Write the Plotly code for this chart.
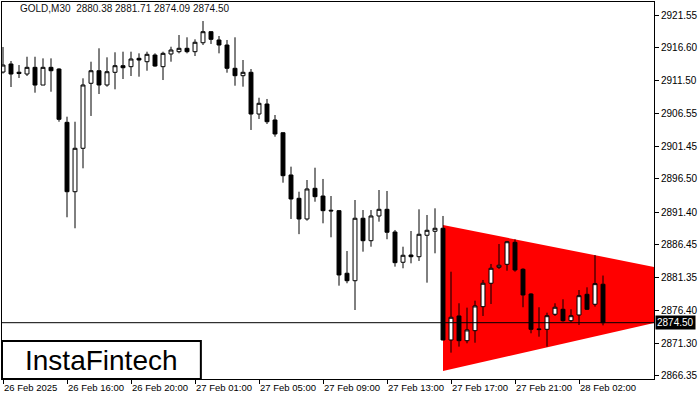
import plotly.graph_objects as go

# ---- data (GOLD, M30) ----
opens = [2912.83, 2914.06, 2912.80, 2912.53, 2913.55, 2910.84, 2913.55, 2913.29, 2905.14, 2894.53,
         2901.17, 2911.11, 2913.03, 2910.85, 2912.79, 2913.80, 2913.65, 2914.93, 2914.41, 2915.43,
         2913.65, 2915.59, 2915.94, 2916.46, 2915.94, 2917.31, 2919.00, 2917.73, 2916.96, 2913.40,
         2912.27, 2912.79, 2906.41, 2907.94, 2905.50, 2903.55, 2897.09, 2893.52, 2890.36, 2895.05,
         2893.87, 2891.70, 2891.63, 2882.06, 2880.92, 2890.47, 2887.04, 2890.82, 2891.84, 2888.37,
         2883.74, 2884.85, 2884.59, 2887.87, 2888.48, 2888.94, 2871.86, 2875.53, 2871.75, 2873.28,
         2876.95, 2880.53, 2882.97, 2883.43, 2886.79, 2882.67, 2878.89, 2873.55, 2873.49, 2875.79,
         2876.55, 2874.81, 2875.68, 2878.84, 2877.32, 2880.38]
highs = [2916.66, 2914.52, 2913.90, 2915.17, 2915.17, 2914.92, 2914.92, 2913.40, 2906.00, 2905.23,
         2911.87, 2914.41, 2916.46, 2915.08, 2915.85, 2915.94, 2915.94, 2915.69, 2915.94, 2915.69,
         2915.94, 2916.70, 2918.49, 2918.14, 2917.83, 2920.63, 2919.05, 2918.34, 2917.73, 2918.14,
         2914.67, 2913.29, 2908.90, 2908.71, 2906.26, 2903.60, 2898.36, 2894.53, 2896.32, 2898.20,
         2896.48, 2893.87, 2891.70, 2885.46, 2893.26, 2891.73, 2891.73, 2894.79, 2894.64, 2888.68,
         2886.12, 2888.52, 2891.84, 2890.97, 2891.99, 2890.82, 2882.30, 2877.47, 2876.80, 2877.87,
         2881.03, 2883.48, 2886.53, 2887.00, 2887.25, 2882.82, 2879.00, 2876.86, 2876.03, 2877.47,
         2878.08, 2876.55, 2879.50, 2879.91, 2884.85, 2881.71]
lows = [2912.60, 2910.54, 2911.92, 2912.22, 2909.67, 2910.84, 2909.82, 2905.23, 2890.62, 2888.94,
        2898.11, 2906.11, 2909.47, 2910.59, 2910.19, 2911.76, 2912.22, 2912.12, 2913.03, 2913.65,
        2911.61, 2914.41, 2915.69, 2915.69, 2915.28, 2916.96, 2917.12, 2915.69, 2912.73, 2910.74,
        2910.59, 2903.97, 2905.65, 2904.88, 2902.94, 2895.91, 2890.36, 2888.04, 2890.10, 2893.00,
        2889.70, 2887.56, 2880.16, 2880.53, 2876.44, 2885.36, 2886.12, 2889.95, 2887.26, 2883.07,
        2882.82, 2883.58, 2883.94, 2880.62, 2885.11, 2871.80, 2869.92, 2870.84, 2871.35, 2871.44,
        2875.53, 2877.36, 2882.71, 2882.45, 2882.30, 2876.86, 2872.88, 2872.36, 2870.84, 2875.53,
        2874.66, 2874.56, 2874.15, 2876.44, 2876.95, 2874.09]
closes = [2913.90, 2912.53, 2912.60, 2913.55, 2910.84, 2913.55, 2913.03, 2905.60, 2894.53, 2901.17,
          2910.85, 2913.03, 2910.85, 2912.88, 2913.80, 2913.49, 2914.82, 2914.67, 2915.54, 2913.75,
          2915.69, 2916.20, 2916.46, 2915.94, 2917.38, 2919.00, 2917.83, 2916.96, 2913.40, 2912.27,
          2912.79, 2906.41, 2908.05, 2905.23, 2903.36, 2896.98, 2893.42, 2890.36, 2894.95, 2893.77,
          2891.63, 2891.60, 2881.80, 2880.92, 2890.47, 2887.04, 2890.82, 2891.84, 2888.33, 2883.68,
          2884.81, 2884.59, 2888.02, 2888.63, 2888.94, 2871.86, 2875.33, 2871.75, 2873.39, 2877.06,
          2880.53, 2882.82, 2883.28, 2886.88, 2882.56, 2878.74, 2873.49, 2873.45, 2875.57, 2876.86,
          2874.81, 2875.57, 2878.63, 2876.55, 2880.47, 2874.50]
bar_index = list(range(len(opens)))

x_tick_index = [0, 8, 16, 24, 32, 40, 48, 56, 64, 72]
x_tick_labels = ["26 Feb 2025", "26 Feb 16:00", "26 Feb 20:00", "27 Feb 01:00", "27 Feb 05:00",
                 "27 Feb 09:00", "27 Feb 13:00", "27 Feb 17:00", "27 Feb 21:00", "28 Feb 02:00"]
y_tick_values = [2921.55, 2916.60, 2911.50, 2906.55, 2901.45, 2896.50,
                 2891.40, 2886.45, 2881.35, 2876.40, 2871.30, 2866.35]

bid_price = 2874.50
header_text = "GOLD,M30\u00a0\u00a02880.38 2881.71 2874.09 2874.50"

# symmetrical triangle pattern (bar index, price)
triangle_index = [55, 55, 97.9]
triangle_price = [2889.44, 2867.12, 2879.02]

x_range = [-0.125, 81.375]
y_range = [2865.89, 2923.54]

FONT = "Liberation Sans, Arial, sans-serif"

fig = go.Figure()

fig.add_trace(go.Candlestick(
    x=bar_index, open=opens, high=highs, low=lows, close=closes,
    increasing=dict(fillcolor="white", line=dict(color="black", width=1)),
    decreasing=dict(fillcolor="black", line=dict(color="black", width=1)),
    whiskerwidth=0))

# triangle drawn below the candles
tri_path = "M " + " L ".join(f"{xi},{yi}" for xi, yi in zip(triangle_index, triangle_price)) + " Z"
fig.add_shape(type="path", xref="x", yref="y", path=tri_path,
              fillcolor="#ff0000", line=dict(width=0), layer="below")

fig.add_shape(type="line", xref="paper", x0=0, x1=1, yref="y", y0=bid_price, y1=bid_price,
              line=dict(color="black", width=1), layer="above")

# logo box
fig.add_shape(type="rect", xref="paper", yref="paper", x0=0.0, x1=0.305, y0=0.0, y1=0.101,
              line=dict(color="black", width=2), fillcolor="white", layer="above")
fig.add_annotation(xref="paper", yref="paper", x=0.1525, y=0.05, text="InstaFintech",
                   showarrow=False, font=dict(family=FONT, size=28, color="black"),
                   xanchor="center", yanchor="middle")

fig.add_annotation(xref="paper", yref="paper", x=0.024, y=0.982, text=header_text,
                   showarrow=False, xanchor="left", yanchor="middle",
                   font=dict(family=FONT, size=10, color="#101010"))

fig.add_annotation(xref="paper", yref="y", x=1, y=bid_price, text="2874.50",
                   showarrow=False, xanchor="left", yanchor="middle", xshift=1,
                   bgcolor="black", borderpad=1,
                   font=dict(family=FONT, size=10, color="white"))

fig.update_layout(
    width=700, height=400,
    margin=dict(l=2, r=46, t=2, b=21, autoexpand=False),
    paper_bgcolor="white", plot_bgcolor="white",
    showlegend=False, boxgap=0.3,
    xaxis=dict(range=x_range, tickvals=x_tick_index, ticktext=x_tick_labels,
               ticks="outside", ticklen=4, tickcolor="black", tickangle=0,
               ticklabelposition="outside right", automargin=False,
               showline=True, linecolor="black", linewidth=1, mirror=True,
               showgrid=False, zeroline=False,
               rangeslider=dict(visible=False),
               tickfont=dict(family=FONT, size=9.5, color="black")),
    yaxis=dict(range=y_range, side="right", tickvals=y_tick_values,
               ticktext=[f"{v:.2f}" for v in y_tick_values], automargin=False,
               ticks="outside", ticklen=4, tickcolor="black",
               showline=True, linecolor="black", linewidth=1, mirror=True,
               showgrid=False, zeroline=False,
               tickfont=dict(family=FONT, size=10, color="black")),
)

fig.write_html("out.html", config={"displayModeBar": False},
               post_script="document.body.style.margin='0';")
